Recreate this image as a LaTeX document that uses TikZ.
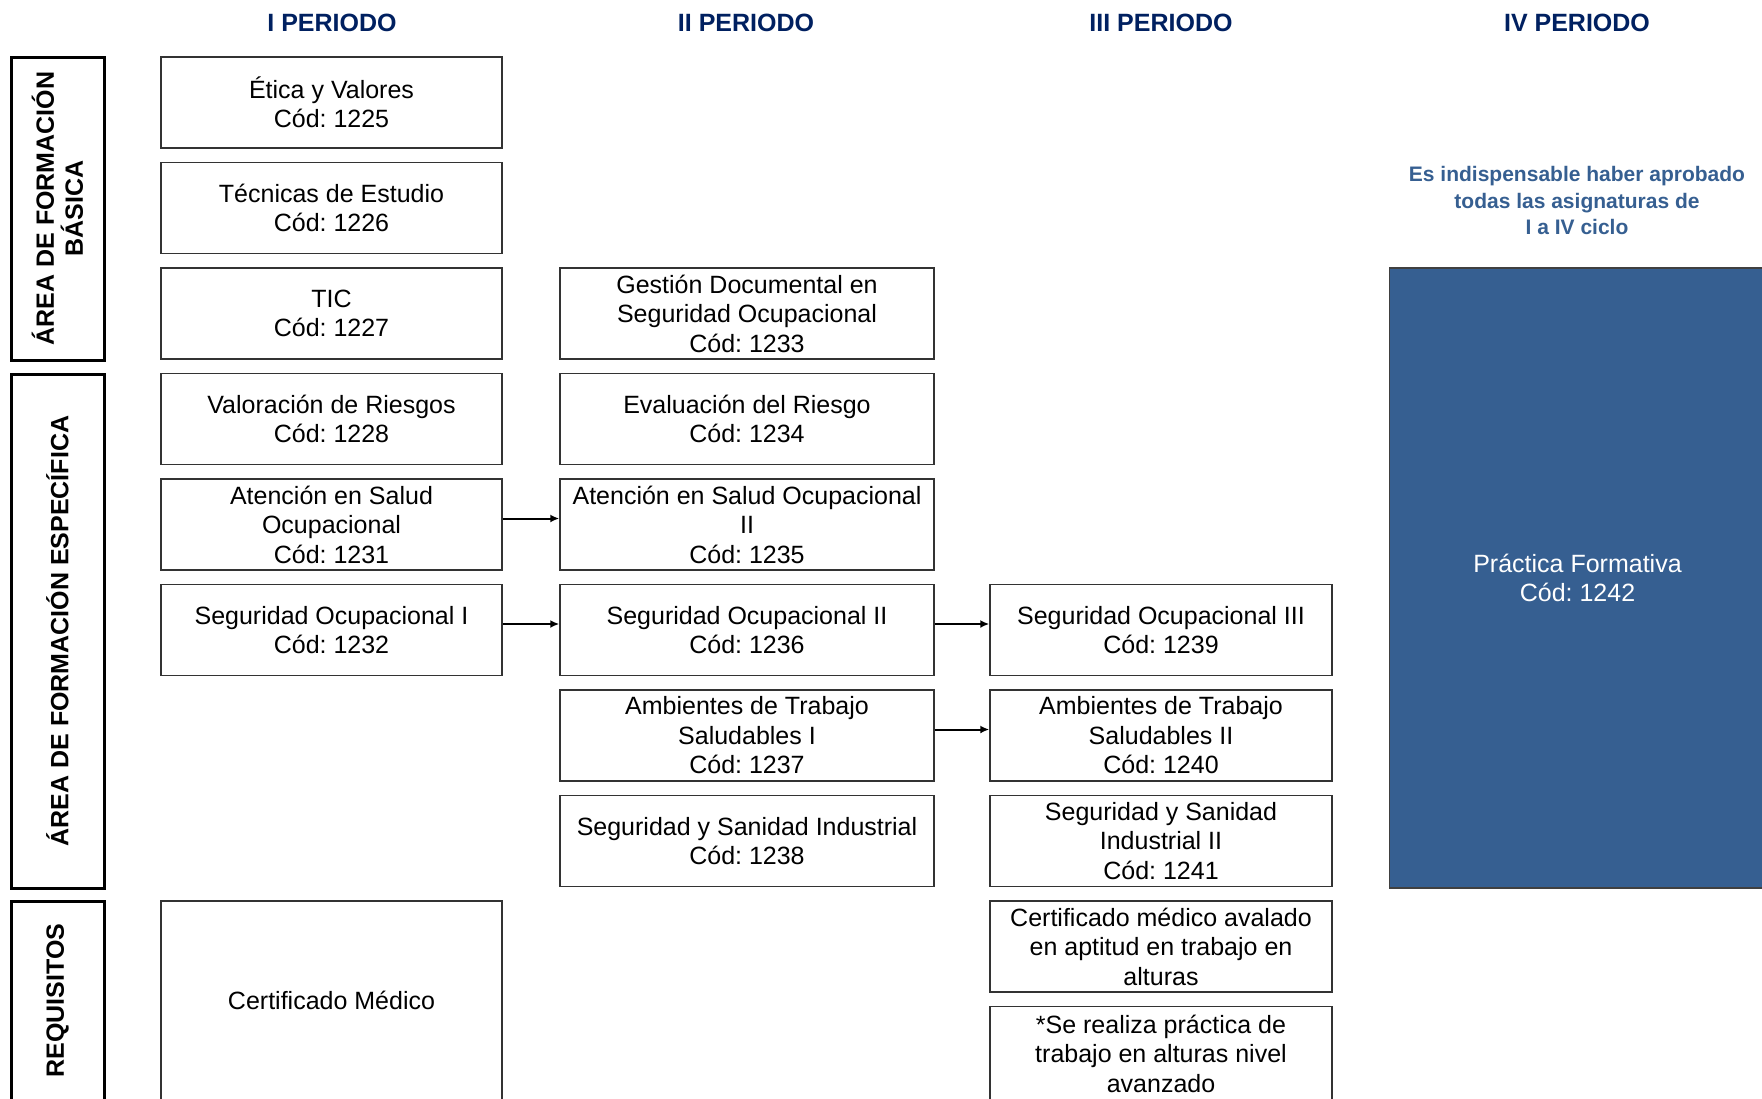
\documentclass[tikz,border=0pt]{standalone}
\usepackage{fontspec}
\setmainfont{Liberation Sans}
\usetikzlibrary{arrows.meta}
\definecolor{hdrblue}{HTML}{002060}
\definecolor{accblue}{HTML}{365F91}
\frenchspacing
\begin{document}
\begin{tikzpicture}[x=1pt,y=-1pt,
  course/.style={draw=black!80, line width=1.5pt, rectangle, inner sep=0pt, align=center,
    font=\fontsize{25}{29.5}\selectfont},
  c1/.style={course, minimum width=341pt, minimum height=91pt},
  c2/.style={course, minimum width=374pt, minimum height=91pt},
  c3/.style={course, minimum width=342pt, minimum height=91pt},
  side/.style={draw=black, line width=3pt, rectangle, rotate=90, inner sep=0pt, align=center,
    minimum height=93pt, font=\bfseries\fontsize{25}{29}\selectfont},
  hdr/.style={text=hdrblue, font=\bfseries\fontsize{25}{29}\selectfont, inner sep=0pt},
  link/.style={line width=2pt, -{Latex[length=9pt,width=8pt]}}
]
\useasboundingbox (0,0) rectangle (1762,1098);

% headers
\node[hdr] (h1) at (332,22.5) {I PERIODO};
\node[hdr] (h2) at (746,22.5) {II PERIODO};
\node[hdr] (h3) at (1161,22.5) {III PERIODO};
\node[hdr] (h4) at (1577,22.5) {IV PERIODO};

% side labels
\node[side, minimum width=303pt] (sb) at (57.5,208.5) {ÁREA DE FORMACIÓN\\BÁSICA};
\node[side, minimum width=514pt] (se) at (57.5,631) {ÁREA DE FORMACIÓN ESPECÍFICA};
\node[side, minimum width=199pt] (sr) at (57.5,1000.5) {REQUISITOS};

% column I
\node[c1] (a1) at (331.5,102.5) {Ética y Valores\\Cód: 1225};
\node[c1] (a2) at (331.5,208) {Técnicas de Estudio\\Cód: 1226};
\node[c1] (a3) at (331.5,313.5) {TIC\\Cód: 1227};
\node[c1] (a4) at (331.5,419) {Valoración de Riesgos\\Cód: 1228};
\node[c1] (a5) at (331.5,524.5) {Atención en Salud\\Ocupacional\\Cód: 1231};
\node[c1] (a6) at (331.5,630) {Seguridad Ocupacional I\\Cód: 1232};
\node[c1, minimum height=199pt] (a9) at (331.5,1000.5) {Certificado Médico};

% column II
\node[c2] (b3) at (747,313.5) {Gestión Documental en\\Seguridad Ocupacional\\Cód: 1233};
\node[c2] (b4) at (747,419) {Evaluación del Riesgo\\Cód: 1234};
\node[c2] (b5) at (747,524.5) {Atención en Salud Ocupacional\\II\\Cód: 1235};
\node[c2] (b6) at (747,630) {Seguridad Ocupacional II\\Cód: 1236};
\node[c2] (b7) at (747,735.5) {Ambientes de Trabajo\\Saludables I\\Cód: 1237};
\node[c2] (b8) at (747,841) {Seguridad y Sanidad Industrial\\Cód: 1238};

% column III
\node[c3] (d6) at (1161,630) {Seguridad Ocupacional III\\Cód: 1239};
\node[c3] (d7) at (1161,735.5) {Ambientes de Trabajo\\Saludables II\\Cód: 1240};
\node[c3] (d8) at (1161,841) {Seguridad y Sanidad\\Industrial II\\Cód: 1241};
\node[c3] (d9) at (1161,946.5) {Certificado médico avalado\\en aptitud en trabajo en\\alturas};
\node[c3, minimum height=94pt] (d10) at (1161,1053.5) {*Se realiza práctica de\\trabajo en alturas nivel\\avanzado};

% column IV
\node[text=accblue, font=\bfseries\fontsize{21}{26.5}\selectfont, align=center, inner sep=0pt] (note) at (1577,200.5)
  {Es indispensable haber aprobado\\todas las asignaturas de\\I a IV ciclo};
\node[rectangle, fill=accblue, draw=black!75, line width=1.5pt, minimum width=376pt, minimum height=620pt,
  inner sep=0pt, align=center, text=white, font=\fontsize{25}{29.5}\selectfont] (pf) at (1577.5,578)
  {Práctica Formativa\\Cód: 1242};

% connectors
\draw[link] ([yshift=6pt]a5.east) -- ([yshift=6pt]b5.west);
\draw[link] ([yshift=6pt]a6.east) -- ([yshift=6pt]b6.west);
\draw[link] ([yshift=6pt]b6.east) -- ([yshift=6pt]d6.west);
\draw[link] ([yshift=6pt]b7.east) -- ([yshift=6pt]d7.west);
\end{tikzpicture}
\end{document}
